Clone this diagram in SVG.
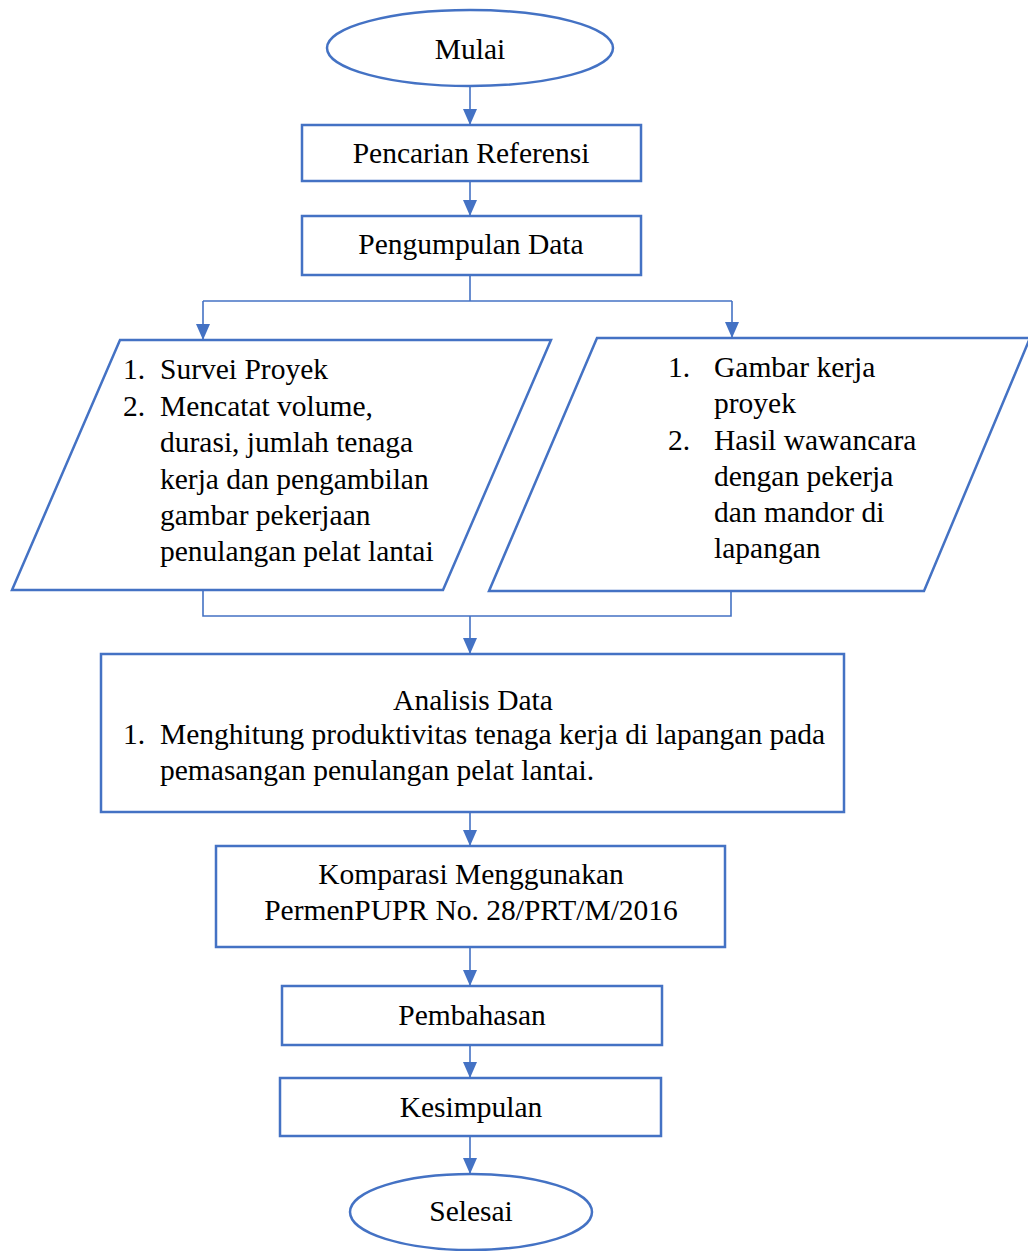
<svg xmlns="http://www.w3.org/2000/svg" width="1028" height="1251" viewBox="0 0 1028 1251">
<style>
.s{fill:#fff;stroke:#4472C4;stroke-width:2.5}
.c{fill:none;stroke:#4472C4;stroke-width:1.6}
text{font-size:29.5px;fill:#000}
.m{text-anchor:middle}
</style>
<defs>
<marker id="ah" markerUnits="userSpaceOnUse" markerWidth="16" markerHeight="16" viewBox="0 0 16 16" refX="16" refY="8" orient="auto">
<path d="M0,1 L16,8 L0,15 Z" fill="#4472C4"/>
</marker>
</defs>
<rect width="1028" height="1251" fill="#fff"/>
<g id="connectors">
<line class="c" x1="470" y1="86" x2="470" y2="125" marker-end="url(#ah)"/>
<line class="c" x1="470" y1="181" x2="470" y2="216" marker-end="url(#ah)"/>
<polyline class="c" points="470,275 470,301"/>
<polyline class="c" points="203,301 732,301"/>
<line class="c" x1="203" y1="301" x2="203" y2="340" marker-end="url(#ah)"/>
<line class="c" x1="732" y1="301" x2="732" y2="338" marker-end="url(#ah)"/>
<polyline class="c" points="203,590 203,616 731,616 731,591"/>
<line class="c" x1="470" y1="616" x2="470" y2="654" marker-end="url(#ah)"/>
<line class="c" x1="470" y1="812" x2="470" y2="846" marker-end="url(#ah)"/>
<line class="c" x1="470" y1="947" x2="470" y2="986" marker-end="url(#ah)"/>
<line class="c" x1="470" y1="1045" x2="470" y2="1078" marker-end="url(#ah)"/>
<line class="c" x1="470" y1="1136" x2="470" y2="1174" marker-end="url(#ah)"/>
</g>
<g font-family="'Liberation Serif', 'Times New Roman', Times, serif">
<g id="mulai">
<ellipse class="s" cx="470" cy="48" rx="143" ry="38"/>
<text class="m" x="470" y="59">Mulai</text>
</g>
<g id="pencarian">
<rect class="s" x="302" y="125" width="339" height="56"/>
<text class="m" x="471" y="163">Pencarian Referensi</text>
</g>
<g id="pengumpulan">
<rect class="s" x="302" y="216" width="339" height="59"/>
<text class="m" x="471" y="254">Pengumpulan Data</text>
</g>
<g id="survei">
<polygon class="s" points="120,340 551,340 443,590 12,590"/>
<text x="123" y="379">1.</text><text x="160" y="379">Survei Proyek</text>
<text x="123" y="416">2.</text><text x="160" y="416">Mencatat volume,</text>
<text x="160" y="452">durasi, jumlah tenaga</text>
<text x="160" y="489">kerja dan pengambilan</text>
<text x="160" y="525">gambar pekerjaan</text>
<text x="160" y="561">penulangan pelat lantai</text>
</g>
<g id="gambar">
<polygon class="s" points="597,338 1030,338 924,591 489,591"/>
<text x="668" y="377">1.</text><text x="714" y="377">Gambar kerja</text>
<text x="714" y="413">proyek</text>
<text x="668" y="450">2.</text><text x="714" y="450">Hasil wawancara</text>
<text x="714" y="486">dengan pekerja</text>
<text x="714" y="522">dan mandor di</text>
<text x="714" y="558">lapangan</text>
</g>
<g id="analisis">
<rect class="s" x="101" y="654" width="743" height="158"/>
<text class="m" x="473" y="710">Analisis Data</text>
<text x="123" y="744">1.</text><text x="160" y="744">Menghitung produktivitas tenaga kerja di lapangan pada</text>
<text x="160" y="780">pemasangan penulangan pelat lantai.</text>
</g>
<g id="komparasi">
<rect class="s" x="216" y="846" width="509" height="101"/>
<text class="m" x="471" y="884">Komparasi Menggunakan</text>
<text class="m" x="471" y="920">PermenPUPR No. 28/PRT/M/2016</text>
</g>
<g id="pembahasan">
<rect class="s" x="282" y="986" width="380" height="59"/>
<text class="m" x="472" y="1025">Pembahasan</text>
</g>
<g id="kesimpulan">
<rect class="s" x="280" y="1078" width="381" height="58"/>
<text class="m" x="471" y="1117">Kesimpulan</text>
</g>
<g id="selesai">
<ellipse class="s" cx="471" cy="1212" rx="121" ry="38"/>
<text class="m" x="471" y="1221">Selesai</text>
</g>
</g>
</svg>
